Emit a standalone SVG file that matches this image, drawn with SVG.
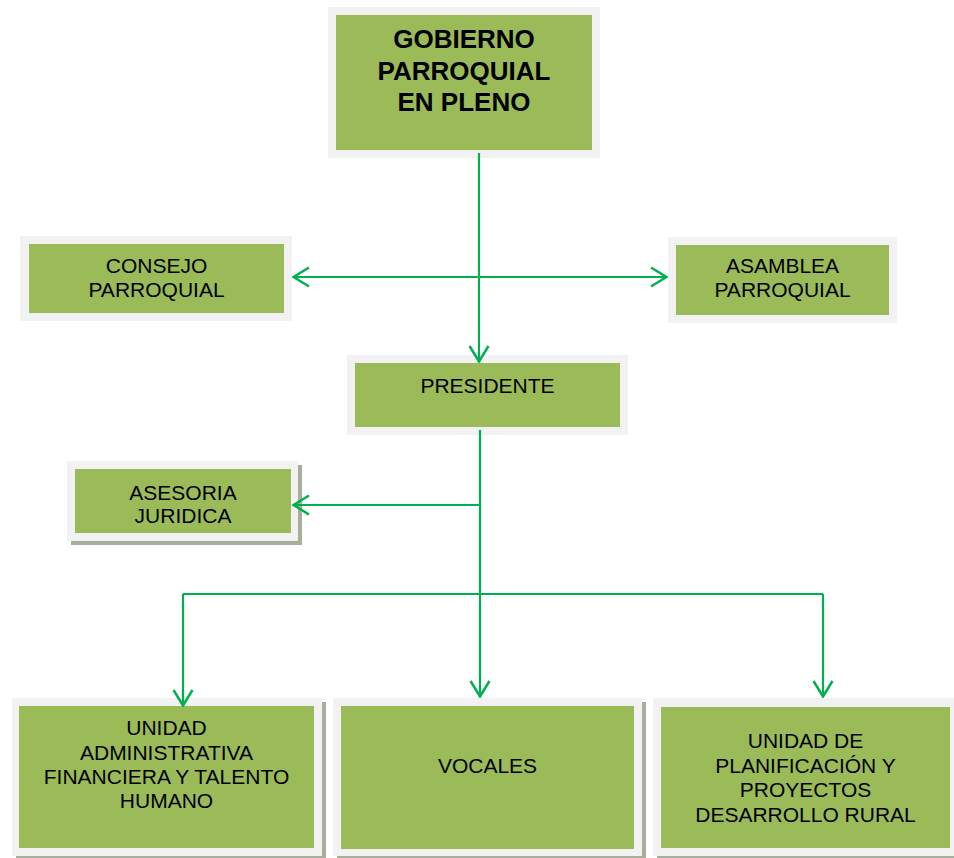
<svg xmlns="http://www.w3.org/2000/svg" width="954" height="858" viewBox="0 0 954 858">
<style>
.frame{fill:#f2f2f2}
.shadow{fill:#a8ae9c}
.box{fill:#9bbb59}
.t{font-family:"Liberation Sans",Arial,sans-serif;font-size:21px;fill:#000;text-anchor:middle}
.tb{font-family:"Liberation Sans",Arial,sans-serif;font-size:26px;font-weight:bold;fill:#000;text-anchor:middle}
.c{fill:none;stroke:#00b050;stroke-width:2.2}
</style>
<defs>
<marker id="arr" viewBox="0 0 18 22" refX="17" refY="11" markerWidth="18" markerHeight="22" markerUnits="userSpaceOnUse" orient="auto-start-reverse">
<path d="M1,1.5 L16.5,11 L1,20.5" fill="none" stroke="#00b050" stroke-width="2.5"/>
</marker>
</defs>
<rect width="954" height="858" fill="#fff"/>
<g id="gobierno">
<rect class="frame" x="328" y="7" width="272" height="151"/>
<rect class="box" x="336" y="15" width="256" height="135"/>
<text class="tb" x="464" y="48">GOBIERNO</text>
<text class="tb" x="464" y="80">PARROQUIAL</text>
<text class="tb" x="464" y="111">EN PLENO</text>
</g>
<g id="consejo">
<rect class="frame" x="20" y="236" width="272" height="85"/>
<rect class="box" x="29" y="244" width="255" height="69"/>
<text class="t" x="156.5" y="273">CONSEJO</text>
<text class="t" x="156.5" y="297">PARROQUIAL</text>
</g>
<g id="asamblea">
<rect class="frame" x="668" y="237" width="229" height="86"/>
<rect class="box" x="676" y="245" width="213" height="70"/>
<text class="t" x="782.5" y="273">ASAMBLEA</text>
<text class="t" x="782.5" y="297">PARROQUIAL</text>
</g>
<g id="presidente">
<rect class="frame" x="347" y="355" width="281" height="80"/>
<rect class="box" x="355" y="363" width="265" height="64"/>
<text class="t" x="487.5" y="393">PRESIDENTE</text>
</g>
<g id="asesoria">
<rect class="shadow" x="71" y="465" width="231" height="80"/>
<rect class="frame" x="67" y="461" width="231" height="80"/>
<rect class="box" x="75" y="469" width="216" height="64"/>
<text class="t" x="183" y="500">ASESORIA</text>
<text class="t" x="183" y="523">JURIDICA</text>
</g>
<g id="unidad-administrativa">
<rect class="shadow" x="16" y="702" width="310" height="158"/>
<rect class="frame" x="12" y="698" width="310" height="158"/>
<rect class="box" x="19" y="706" width="295" height="142"/>
<text class="t" x="166.5" y="735">UNIDAD</text>
<text class="t" x="166.5" y="760">ADMINISTRATIVA</text>
<text class="t" x="166.5" y="784">FINANCIERA Y TALENTO</text>
<text class="t" x="166.5" y="808">HUMANO</text>
</g>
<g id="vocales">
<rect class="shadow" x="337" y="702" width="309" height="158"/>
<rect class="frame" x="333" y="698" width="309" height="158"/>
<rect class="box" x="341" y="706" width="293" height="143"/>
<text class="t" x="487.5" y="773">VOCALES</text>
</g>
<g id="unidad-planificacion">
<rect class="shadow" x="657" y="702" width="301" height="158"/>
<rect class="frame" x="653" y="698" width="301" height="158"/>
<rect class="box" x="661" y="707" width="289" height="141"/>
<text class="t" x="805.5" y="748">UNIDAD DE</text>
<text class="t" x="805.5" y="773">PLANIFICACIÓN Y</text>
<text class="t" x="805.5" y="797">PROYECTOS</text>
<text class="t" x="805.5" y="822">DESARROLLO RURAL</text>
</g>
<g id="connectors">
<path class="c" d="M479,153 V362" marker-end="url(#arr)"/>
<path class="c" d="M293,277 H667" marker-start="url(#arr)" marker-end="url(#arr)"/>
<path class="c" d="M480,430 V697" marker-end="url(#arr)"/>
<path class="c" d="M480,505 H293" marker-end="url(#arr)"/>
<path class="c" d="M183,594 H823"/>
<path class="c" d="M183,594 V706" marker-end="url(#arr)"/>
<path class="c" d="M823,594 V697" marker-end="url(#arr)"/>
</g>
</svg>
